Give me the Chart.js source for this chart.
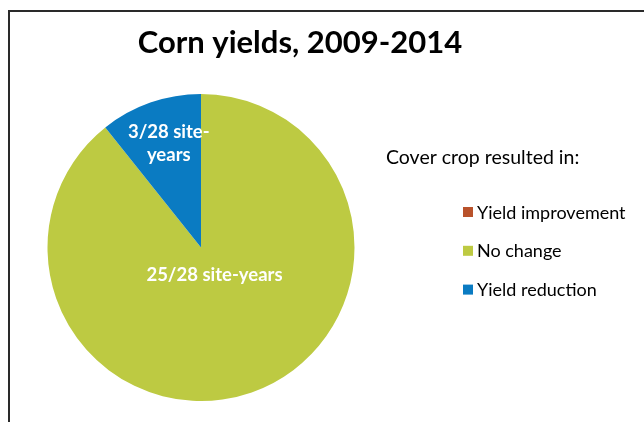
<!DOCTYPE html>
<html>
<head>
<meta charset="utf-8">
<script src="https://cdn.jsdelivr.net/npm/chart.js@4/dist/chart.umd.min.js"></script>
<style>
  html, body { margin: 0; padding: 0; background: #fff; }
  #wrap { position: relative; width: 644px; height: 422px; }
</style>
</head>
<body>
<div id="wrap"><canvas id="c" width="644" height="422"></canvas></div>
<script>
// Outcome categories and site-year counts
const categories = ['Yield improvement', 'No change', 'Yield reduction'];
const siteYears = [0, 25, 3];
const sliceColors = ['#B9522B', '#BDCA42', '#0A7BC2'];
const chartTitle = 'Corn yields, 2009-2014';
const legendTitle = 'Cover crop resulted in:';
// where each slice label block is centred, as a fraction of the radius from the pie centre
const labelAnchor = [null, [0.088, 0.18], [-0.21, -0.68]];
const labelLines = [null, ['25/28 site-years'], ['3/28 site-', 'years']];

const FONT = 'Lato, "Open Sans", sans-serif';

const decorations = {
  id: 'decorations',
  afterDraw(chart) {
    const ctx = chart.ctx;
    ctx.save();
    // frame
    ctx.strokeStyle = '#2a2a2a';
    ctx.lineWidth = 2;
    ctx.beginPath();
    ctx.moveTo(9, 430);
    ctx.lineTo(9, 11);
    ctx.lineTo(660, 11);
    ctx.stroke();

    // title
    ctx.fillStyle = '#000';
    ctx.font = 'bold 31px ' + FONT;
    ctx.textAlign = 'center';
    ctx.textBaseline = 'alphabetic';
    ctx.fillText(chartTitle, 300, 53);

    // slice labels
    const meta = chart.getDatasetMeta(0);
    const arc0 = meta.data[0];
    const cx = arc0.x, cy = arc0.y, r = arc0.outerRadius;
    ctx.fillStyle = '#fff';
    ctx.font = 'bold 18.5px ' + FONT;
    ctx.textBaseline = 'middle';
    meta.data.forEach((arc, i) => {
      if (!labelAnchor[i] || siteYears[i] === 0) return;
      const lx = cx + labelAnchor[i][0] * r;
      const ly = cy + labelAnchor[i][1] * r;
      const lines = labelLines[i];
      const lh = 23;
      lines.forEach((t, k) => {
        ctx.fillText(t, lx, ly + (k - (lines.length - 1) / 2) * lh);
      });
    });

    // legend
    ctx.fillStyle = '#000';
    ctx.textAlign = 'left';
    ctx.textBaseline = 'alphabetic';
    ctx.font = '19.5px ' + FONT;
    ctx.fillText(legendTitle, 386, 164);
    ctx.font = '18px ' + FONT;
    categories.forEach((name, i) => {
      const y = 212 + i * 38.8;
      ctx.fillStyle = sliceColors[i];
      ctx.fillRect(463, y - 5, 10, 10);
      ctx.fillStyle = '#000';
      ctx.fillText(name, 477, y + 6.5);
    });
    ctx.restore();
  }
};

new Chart(document.getElementById('c'), {
  type: 'pie',
  data: {
    labels: categories,
    datasets: [{
      data: siteYears,
      backgroundColor: sliceColors,
      borderWidth: 0
    }]
  },
  options: {
    responsive: false,
    animation: false,
    layout: { padding: { left: 47.5, right: 289.5, top: 94, bottom: 21 } },
    plugins: {
      legend: { display: false },
      title: { display: false },
      tooltip: { enabled: false }
    }
  },
  plugins: [decorations]
});
</script>
</body>
</html>
